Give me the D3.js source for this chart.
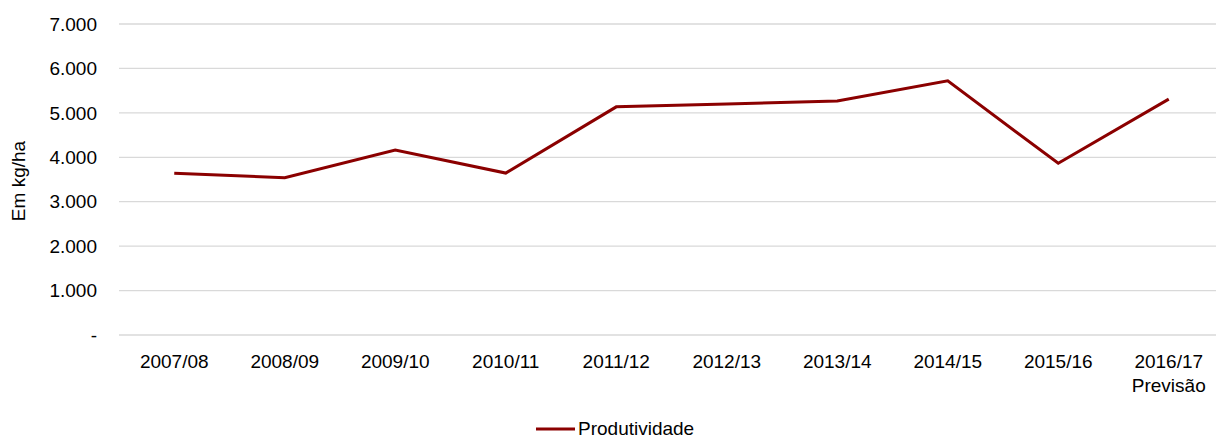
<!DOCTYPE html>
<html>
<head>
<meta charset="utf-8">
<script src="https://cdn.jsdelivr.net/npm/d3@7"></script>
<style>
  body { margin: 0; background: #fff; }
  text { font-family: "Liberation Sans", Arial, sans-serif; fill: #000; }
</style>
</head>
<body>
<div id="chart"></div>
<script>
// safras e produtividade (kg/ha)
const safras = ["2007/08", "2008/09", "2009/10", "2010/11", "2011/12", "2012/13", "2013/14", "2014/15", "2015/16", "2016/17"]
const subLabels = ["", "", "", "", "", "", "", "", "", "Previsão"]
const produtividade = [3640, 3540, 4165, 3645, 5135, 5200, 5265, 5720, 3865, 5310]
const yTicks = [0, 1000, 2000, 3000, 4000, 5000, 6000, 7000]
const serieNome = "Produtividade"

const W = 1216, H = 439
const cor = "#8b0000"

const svg = d3.select("#chart")
    .append("svg")
    .attr("width", W)
    .attr("height", H)

const x = d3.scaleBand()
    .domain(safras)
    .range([119, 1224])

const y = d3.scaleLinear()
    .domain([0, 7000])
    .range([335, 24])

const br = d3.formatLocale({ decimal: ",", thousands: ".", grouping: [3], currency: ["R$", ""] })
const fmt = br.format(",.0f")

// grid
svg.append("g")
    .selectAll("line")
    .data(yTicks)
    .join("line")
    .attr("x1", 119)
    .attr("x2", W)
    .attr("y1", d => y(d))
    .attr("y2", d => y(d))
    .attr("stroke", "#d9d9d9")
    .attr("stroke-width", 1.3)

// eixo y
svg.append("g")
    .selectAll("text")
    .data(yTicks)
    .join("text")
    .attr("x", 97)
    .attr("y", d => y(d))
    .attr("dy", "0.35em")
    .attr("text-anchor", "end")
    .style("font-size", "19px")
    .text(d => d === 0 ? "-" : fmt(d))

svg.append("text")
    .attr("transform", "translate(25,181) rotate(-90)")
    .attr("text-anchor", "middle")
    .style("font-size", "19px")
    .text("Em kg/ha")

// eixo x
const xl = svg.append("g")
    .selectAll("text")
    .data(safras)
    .join("text")
    .attr("x", d => x(d) + x.bandwidth() / 2)
    .attr("y", 368)
    .attr("text-anchor", "middle")
    .style("font-size", "19px")
xl.append("tspan").text(d => d)
xl.append("tspan")
    .attr("x", d => x(d) + x.bandwidth() / 2)
    .attr("dy", 24)
    .text((d, i) => subLabels[i])

// linha
const line = d3.line()
    .x((d, i) => x(safras[i]) + x.bandwidth() / 2)
    .y(d => y(d))

svg.append("path")
    .datum(produtividade)
    .attr("d", line)
    .attr("fill", "none")
    .attr("stroke", cor)
    .attr("stroke-width", 3)
    .attr("stroke-linejoin", "miter")

// legenda
svg.append("line")
    .attr("x1", 536)
    .attr("x2", 575)
    .attr("y1", 429)
    .attr("y2", 429)
    .attr("stroke", cor)
    .attr("stroke-width", 3)

svg.append("text")
    .attr("x", 578)
    .attr("y", 435)
    .style("font-size", "19px")
    .text(serieNome)
</script>
</body>
</html>
